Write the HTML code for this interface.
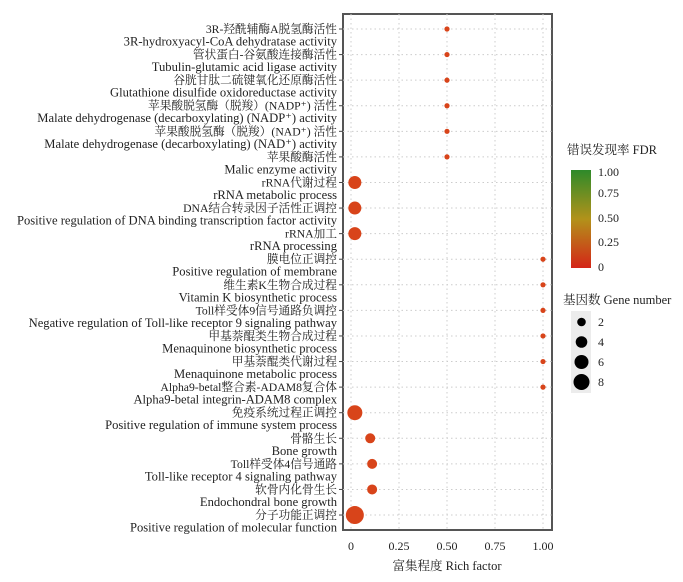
<!DOCTYPE html><html><head><meta charset="utf-8"><style>body{margin:0;background:#fff}svg text{font-family:"Liberation Serif","Noto Serif CJK SC","Noto Sans CJK SC",serif;fill:#222}</style></head><body>
<svg width="683" height="577" viewBox="0 0 683 577" xmlns="http://www.w3.org/2000/svg">
<defs><linearGradient id="g" x1="0" y1="1" x2="0" y2="0"><stop offset="0" stop-color="#d42518"/><stop offset="0.5" stop-color="#b2921a"/><stop offset="1" stop-color="#2e8a2a"/></linearGradient></defs>
<rect x="343" y="14" width="209" height="516" fill="#fff" stroke="#555" stroke-width="2"/>
<g stroke="#ccc" stroke-dasharray="1.5,3" stroke-width="1">
<line x1="351" y1="14" x2="351" y2="530"/><line x1="399" y1="14" x2="399" y2="530"/><line x1="447" y1="14" x2="447" y2="530"/><line x1="495" y1="14" x2="495" y2="530"/><line x1="543" y1="14" x2="543" y2="530"/>
</g>
<g id="rows" stroke="#ccc" stroke-dasharray="1.5,3"></g>
<g font-size="11" text-anchor="end" id="labels"></g>
<g id="pts"></g>
<g font-size="12" text-anchor="middle">
<text x="351" y="550">0</text><text x="399" y="550">0.25</text><text x="447" y="550">0.50</text><text x="495" y="550">0.75</text><text x="543" y="550">1.00</text>
<text x="447" y="570" font-size="12.5">富集程度  Rich factor</text>
</g>
<g font-size="12">
<text x="567" y="154" font-size="12.5">错误发现率  FDR</text>
<rect x="571" y="170" width="20" height="98" fill="url(#g)"/>
<text x="598" y="176">1.00</text><text x="598" y="197">0.75</text><text x="598" y="222">0.50</text><text x="598" y="246">0.25</text><text x="598" y="271">0</text>
<text x="563" y="304" font-size="12.5">基因数 Gene number</text>
<rect x="571" y="311" width="20" height="82" fill="#ececec"/>
<circle cx="581.5" cy="322" r="4.3" fill="#000"/><circle cx="581.5" cy="342" r="5.8" fill="#000"/><circle cx="581.5" cy="362" r="7" fill="#000"/><circle cx="581.5" cy="382" r="8" fill="#000"/>
<text x="598" y="326">2</text><text x="598" y="346">4</text><text x="598" y="366">6</text><text x="598" y="386">8</text>
</g>
<script>
var d=[["3R-羟酰辅酶A脱氢酶活性","3R-hydroxyacyl-CoA dehydratase activity",0.5,2.6],
["管状蛋白-谷氨酸连接酶活性","Tubulin-glutamic acid ligase activity",0.5,2.6],
["谷胱甘肽二硫键氧化还原酶活性","Glutathione disulfide oxidoreductase activity",0.5,2.6],
["苹果酸脱氢酶（脱羧）(NADP⁺) 活性","Malate dehydrogenase (decarboxylating) (NADP⁺) activity",0.5,2.6],
["苹果酸脱氢酶（脱羧）(NAD⁺) 活性","Malate dehydrogenase (decarboxylating) (NAD⁺) activity",0.5,2.6],
["苹果酸酶活性","Malic enzyme activity",0.5,2.6],
["rRNA代谢过程","rRNA metabolic process",0.02,6.5],
["DNA结合转录因子活性正调控","Positive regulation of DNA binding transcription factor activity",0.02,6.5],
["rRNA加工","rRNA processing",0.02,6.5],
["膜电位正调控","Positive regulation of membrane",1,2.6],
["维生素K生物合成过程","Vitamin K biosynthetic process",1,2.6],
["Toll样受体9信号通路负调控","Negative regulation of Toll-like receptor 9 signaling pathway",1,2.6],
["甲基萘醌类生物合成过程","Menaquinone biosynthetic process",1,2.6],
["甲基萘醌类代谢过程","Menaquinone metabolic process",1,2.6],
["Alpha9-betal整合素-ADAM8复合体","Alpha9-betal  integrin-ADAM8  complex",1,2.6],
["免疫系统过程正调控","Positive regulation of immune system process",0.02,7.5],
["骨骼生长","Bone growth",0.1,5],
["Toll样受体4信号通路","Toll-like receptor 4 signaling pathway",0.11,5],
["软骨内化骨生长","Endochondral bone growth",0.11,5],
["分子功能正调控","Positive regulation of molecular function",0.02,9]];
var ns="http://www.w3.org/2000/svg",L=document.getElementById("labels"),R=document.getElementById("rows"),P=document.getElementById("pts"),A=document.querySelector("svg");
d.forEach(function(r,i){var y=29+i*25.58;
var l=document.createElementNS(ns,"line");l.setAttribute("x1",343);l.setAttribute("x2",552);l.setAttribute("y1",y);l.setAttribute("y2",y);R.appendChild(l);
var t=document.createElementNS(ns,"line");t.setAttribute("x1",339);t.setAttribute("x2",343);t.setAttribute("y1",y);t.setAttribute("y2",y);t.setAttribute("stroke","#444");A.appendChild(t);
[[r[0],y+4,"11.7"],[r[1],y+16.5,"12.6"]].forEach(function(s){var e=document.createElementNS(ns,"text");e.setAttribute("x",337);e.setAttribute("y",s[1]);e.setAttribute("font-size",s[2]);e.textContent=s[0];L.appendChild(e);});
var c=document.createElementNS(ns,"circle");c.setAttribute("cx",351+r[2]*192);c.setAttribute("cy",y);c.setAttribute("r",r[3]);c.setAttribute("fill","#d8441a");P.appendChild(c);});
</script>
</svg></body></html>
